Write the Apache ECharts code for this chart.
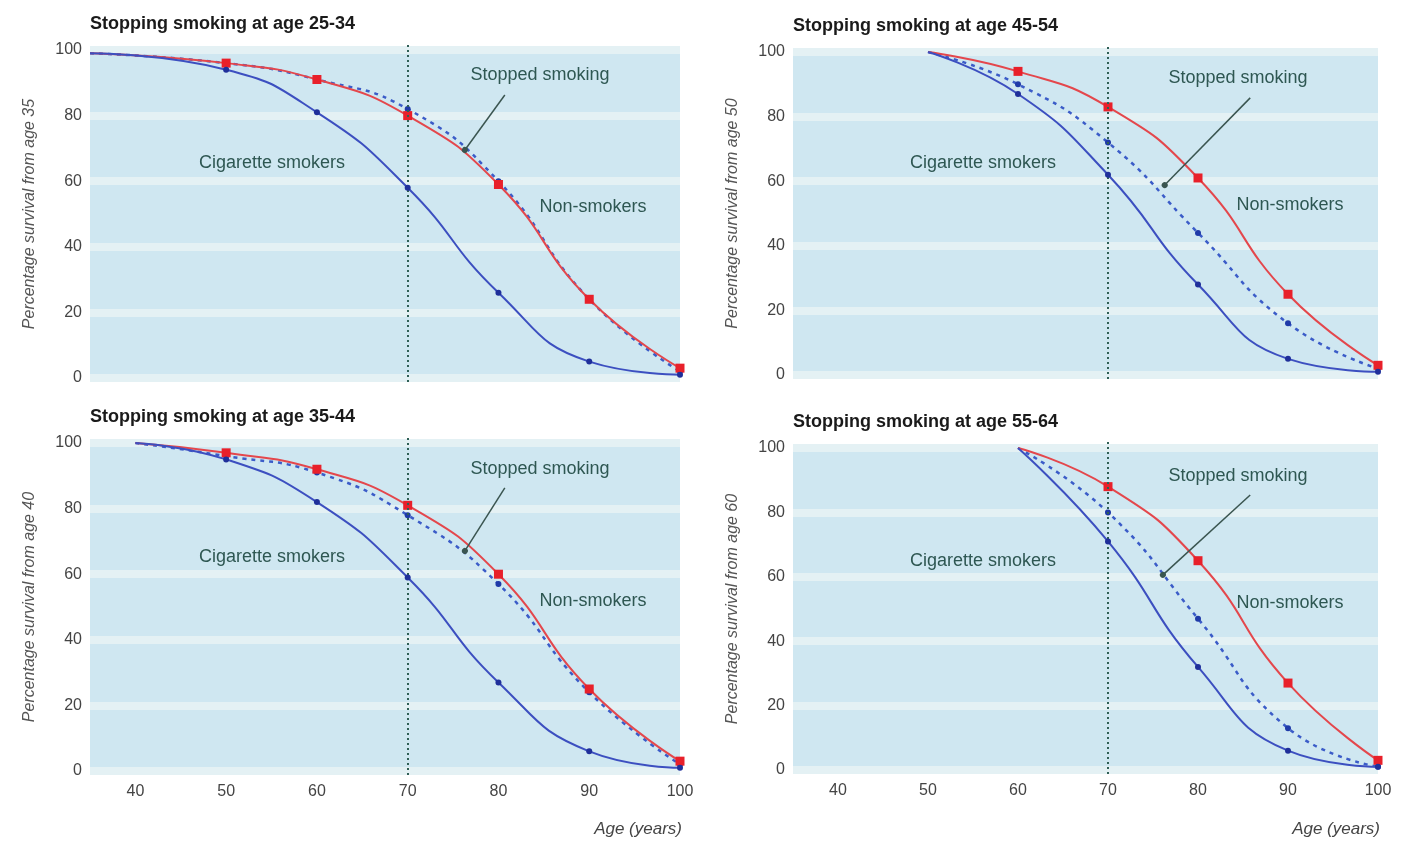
<!DOCTYPE html>
<html>
<head>
<meta charset="utf-8">
<script src="https://cdn.jsdelivr.net/npm/echarts@6/dist/echarts.min.js"></script>
<style>
  html, body { margin: 0; padding: 0; background: #fff; }
  #chart { width: 1401px; height: 843px; }
</style>
</head>
<body>
<div id="chart"></div>
<script>
// data, per panel (age stopped smoking)
var panelTitles = ['Stopping smoking at age 25-34', 'Stopping smoking at age 45-54',
                   'Stopping smoking at age 35-44', 'Stopping smoking at age 55-64'];
var startAges = [35, 50, 40, 60];

var ages25 = [35, 50, 60, 70, 80, 90, 100];
var non25 = [99, 96, 91, 80, 59, 24, 3];
var smk25 = [99, 94, 81, 58, 26, 5, 1];
var stop25 = [99, 96, 91, 82, 60, 24, 2];

var ages45 = [50, 60, 70, 80, 90, 100];
var non45 = [100, 94, 83, 61, 25, 3];
var smk45 = [100, 87, 62, 28, 5, 1];
var stop45 = [100, 90, 72, 44, 16, 2];

var ages35 = [40, 50, 60, 70, 80, 90, 100];
var non35 = [100, 97, 92, 81, 60, 25, 3];
var smk35 = [100, 95, 82, 59, 27, 6, 1];
var stop35 = [100, 96, 91, 78, 57, 24, 2];

var ages55 = [60, 70, 80, 90, 100];
var non55 = [100, 88, 65, 27, 3];
var smk55 = [100, 71, 32, 6, 1];
var stop55 = [100, 80, 47, 13, 1];

var xTicks = [40, 50, 60, 70, 80, 90, 100];

var panels = [
    {ages: ages25, non: non25, smk: smk25, stop: stop25},
    {ages: ages45, non: non45, smk: smk45, stop: stop45},
    {ages: ages35, non: non35, smk: smk35, stop: stop35},
    {ages: ages55, non: non55, smk: smk55, stop: stop55}
];

// arrow ends in data units [from, to]
var arrows = [
    [[80.7, 86.3], [76.3, 69.5]],
    [[85.8, 85.8], [76.3, 58.8]],
    [[80.7, 86.3], [76.3, 67.1]],
    [[85.8, 85.4], [76.1, 60.6]]
];

var FONT = "'Liberation Sans Narrow', 'Liberation Sans', Arial, sans-serif";
var textCol = '#2e5752';

var grids = [
    {left: 90, top: 50, width: 590, height: 328},
    {left: 793, top: 52, width: 585, height: 323},
    {left: 90, top: 443, width: 590, height: 328},
    {left: 793, top: 448, width: 585, height: 322}
];

function pts(ages, vals) {
    return ages.map(function (a, i) {
        var d = {value: [a, vals[i]]};
        if (i === 0) d.symbol = 'none';
        return d;
    });
}

var gridOpts = [], xAxes = [], yAxes = [], series = [], graphics = [];

grids.forEach(function (g, k) {
    var bottomRow = k >= 2;
    gridOpts.push({
        left: g.left, top: g.top, width: g.width, height: g.height,
        show: true, backgroundColor: '#cfe7f1', borderWidth: 0
    });
    xAxes.push({
        type: 'value', gridIndex: k, min: 35, max: 100, interval: 5,
        axisLine: {show: false}, axisTick: {show: false}, splitLine: {show: false},
        axisLabel: {
            show: bottomRow, color: '#444', fontSize: 16, fontFamily: FONT, margin: 13,
            formatter: function (v) { return xTicks.indexOf(v) >= 0 ? v : ''; }
        }
    });
    yAxes.push({
        type: 'value', gridIndex: k, min: 0, max: 100, interval: 20,
        axisLine: {show: false}, axisTick: {show: false},
        splitLine: {lineStyle: {color: '#e4f1f4', width: 8}},
        axisLabel: {color: '#444', fontSize: 16, fontFamily: FONT, margin: 8},
        name: 'Percentage survival from age ' + startAges[k],
        nameLocation: 'middle', nameGap: 52, nameRotate: 90,
        nameTextStyle: {color: '#555', fontSize: 16, fontStyle: 'italic', fontFamily: FONT}
    });

    var p = panels[k];
    series.push({
        type: 'line', xAxisIndex: k, yAxisIndex: k, smooth: true, z: 3,
        data: pts(p.ages, p.stop),
        symbol: 'circle', symbolSize: 6,
        itemStyle: {color: '#1f3aa8'},
        lineStyle: {color: '#3b5cc8', width: 2.5, type: [4, 5]},
        markLine: {
            silent: true, symbol: ['none', 'none'], label: {show: false},
            lineStyle: {color: '#2f5f55', width: 2, type: [2, 3]},
            data: [[{coord: [70, 0], y: g.top + g.height + 4}, {coord: [70, 100], y: g.top - 6}]]
        }
    });
    series.push({
        type: 'line', xAxisIndex: k, yAxisIndex: k, smooth: true, z: 4,
        data: pts(p.ages, p.non),
        symbol: 'rect', symbolSize: 9,
        itemStyle: {color: '#e8202a'},
        lineStyle: {color: '#e4474c', width: 2}
    });
    series.push({
        type: 'line', xAxisIndex: k, yAxisIndex: k, smooth: true, z: 5,
        data: pts(p.ages, p.smk),
        symbol: 'circle', symbolSize: 6,
        itemStyle: {color: '#1f2f9a'},
        lineStyle: {color: '#3c4fc0', width: 2},
        markLine: {
            silent: true, symbol: ['none', 'circle'], symbolSize: 6, label: {show: false},
            lineStyle: {color: '#3a5550', width: 1.5, type: 'solid'},
            itemStyle: {color: '#26332f'},
            data: [[{coord: arrows[k][0]}, {coord: arrows[k][1]}]]
        }
    });

    var left = k % 2 === 0;
    graphics.push({
        type: 'text', left: g.left, top: g.top - 35,
        style: {text: panelTitles[k], font: 'bold 18px ' + FONT, fill: '#1a1a1a'}
    });
    var labs = left ?
        [['Stopped smoking', 540, 75], ['Cigarette smokers', 272, 163], ['Non-smokers', 593, 207]] :
        [['Stopped smoking', 1238, 78], ['Cigarette smokers', 983, 163], ['Non-smokers', 1290, 205]];
    var dy = bottomRow ? (left ? 394 : 398) : 0;
    labs.forEach(function (l) {
        graphics.push({
            type: 'text', x: l[1], y: l[2] + dy, z: 10,
            style: {text: l[0], font: '18px ' + FONT, fill: textCol, align: 'center', verticalAlign: 'middle'}
        });
    });
    if (bottomRow) {
        graphics.push({
            type: 'text', x: g.left + g.width + 2, y: 829,
            style: {text: 'Age (years)', font: 'italic 17px ' + FONT, fill: '#444', align: 'right', verticalAlign: 'middle'}
        });
    }
});

var chart = echarts.init(document.getElementById('chart'));
chart.setOption({
    animation: false,
    grid: gridOpts,
    xAxis: xAxes,
    yAxis: yAxes,
    series: series,
    graphic: graphics
});
</script>
</body>
</html>
